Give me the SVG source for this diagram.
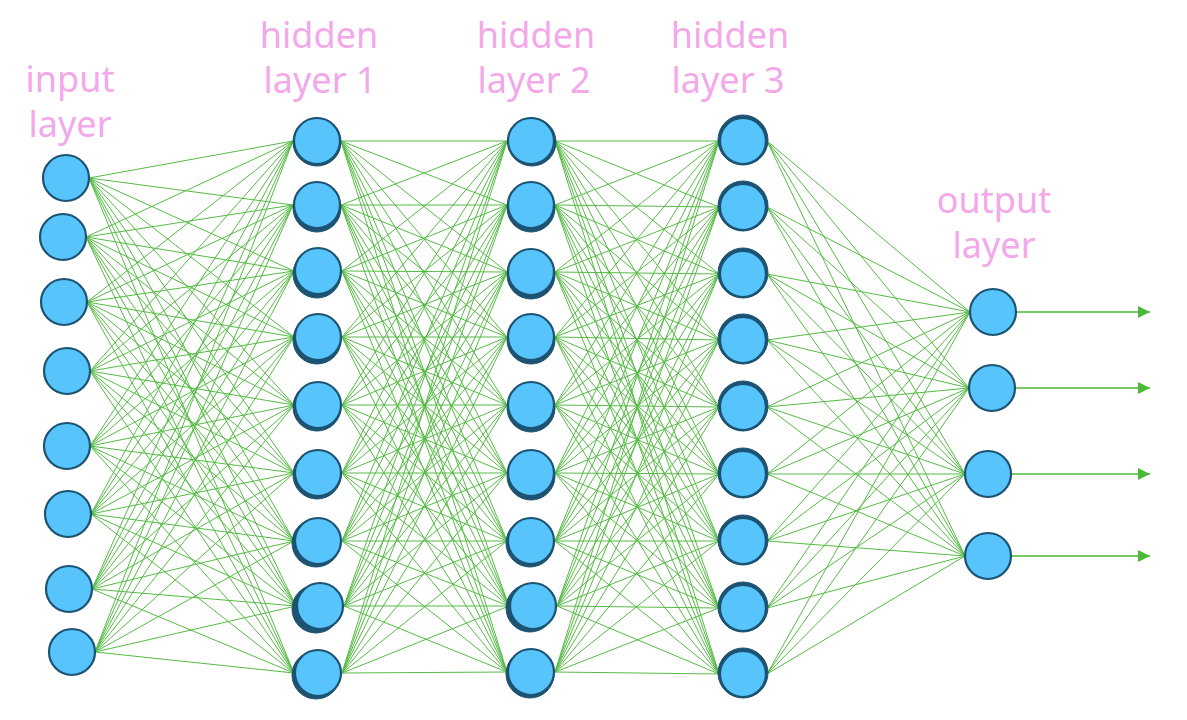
<svg xmlns="http://www.w3.org/2000/svg" width="1187" height="720" viewBox="0 0 1187 720">
<style>
.lbl{font-family:"Noto Sans","Open Sans","DejaVu Sans",sans-serif;font-size:36px;fill:#f3a8e9;text-anchor:middle}
.c{fill:none;stroke:#55bb44;stroke-width:1}
.n{fill:#57c4fc;stroke:#1c5372;stroke-width:2.2}
.b{fill:#1c5372;stroke:#1c5372;stroke-width:1}
.a{stroke:#4cb83a;stroke-width:1.3;fill:none}
</style>
<defs>
<marker id="ah" markerUnits="userSpaceOnUse" markerWidth="13" markerHeight="13" refX="12" refY="6" orient="auto"><path d="M0,0L12,6L0,12z" fill="#4cb83a"/></marker>
</defs>
<g id="labels">
<text class="lbl" x="70" y="92">input</text>
<text class="lbl" x="70" y="137">layer</text>
<text class="lbl" x="319" y="48">hidden</text>
<text class="lbl" x="320" y="93">layer 1</text>
<text class="lbl" x="536" y="48">hidden</text>
<text class="lbl" x="534" y="93">layer 2</text>
<text class="lbl" x="730" y="48">hidden</text>
<text class="lbl" x="728" y="93">layer 3</text>
<text class="lbl" x="994" y="213">output</text>
<text class="lbl" x="994" y="258">layer</text>
</g>
<g id="connectors">
<path class="c" d="M89,178L293,141M89,178L293,205M89,178L294,271M89,178L294,337M89,178L294,405M89,178L294,473M89,178L294,541M89,178L296,606M89,178L294,673
M86,237L293,141M86,237L293,205M86,237L294,271M86,237L294,337M86,237L294,405M86,237L294,473M86,237L294,541M86,237L296,606M86,237L294,673
M87,302L293,141M87,302L293,205M87,302L294,271M87,302L294,337M87,302L294,405M87,302L294,473M87,302L294,541M87,302L296,606M87,302L294,673
M90,371L293,141M90,371L293,205M90,371L294,271M90,371L294,337M90,371L294,405M90,371L294,473M90,371L294,541M90,371L296,606M90,371L294,673
M90,446L293,141M90,446L293,205M90,446L294,271M90,446L294,337M90,446L294,405M90,446L294,473M90,446L294,541M90,446L296,606M90,446L294,673
M91,514L293,141M91,514L293,205M91,514L294,271M91,514L294,337M91,514L294,405M91,514L294,473M91,514L294,541M91,514L296,606M91,514L294,673
M92,589L293,141M92,589L293,205M92,589L294,271M92,589L294,337M92,589L294,405M92,589L294,473M92,589L294,541M92,589L296,606M92,589L294,673
M95,652L293,141M95,652L293,205M95,652L294,271M95,652L294,337M95,652L294,405M95,652L294,473M95,652L294,541M95,652L296,606M95,652L294,673"/>
<path class="c" d="M341,141L507,141M341,141L507,205M341,141L507,272M341,141L507,337M341,141L507,405M341,141L507,473M341,141L507,541M341,141L509,606M341,141L507,672
M341,205L507,141M341,205L507,205M341,205L507,272M341,205L507,337M341,205L507,405M341,205L507,473M341,205L507,541M341,205L509,606M341,205L507,672
M342,271L507,141M342,271L507,205M342,271L507,272M342,271L507,337M342,271L507,405M342,271L507,473M342,271L507,541M342,271L509,606M342,271L507,672
M342,337L507,141M342,337L507,205M342,337L507,272M342,337L507,337M342,337L507,405M342,337L507,473M342,337L507,541M342,337L509,606M342,337L507,672
M342,405L507,141M342,405L507,205M342,405L507,272M342,405L507,337M342,405L507,405M342,405L507,473M342,405L507,541M342,405L509,606M342,405L507,672
M342,473L507,141M342,473L507,205M342,473L507,272M342,473L507,337M342,473L507,405M342,473L507,473M342,473L507,541M342,473L509,606M342,473L507,672
M342,541L507,141M342,541L507,205M342,541L507,272M342,541L507,337M342,541L507,405M342,541L507,473M342,541L507,541M342,541L509,606M342,541L507,672
M344,606L507,141M344,606L507,205M344,606L507,272M344,606L507,337M344,606L507,405M344,606L507,473M344,606L507,541M344,606L509,606M344,606L507,672
M342,673L507,141M342,673L507,205M342,673L507,272M342,673L507,337M342,673L507,405M342,673L507,473M342,673L507,541M342,673L509,606M342,673L507,672"/>
<path class="c" d="M555,141L719,141M555,141L719,207M555,141L719,274M555,141L719,340M555,141L719,407M555,141L719,474M555,141L719,541M555,141L719,608M555,141L719,674
M555,205L719,141M555,205L719,207M555,205L719,274M555,205L719,340M555,205L719,407M555,205L719,474M555,205L719,541M555,205L719,608M555,205L719,674
M555,272L719,141M555,272L719,207M555,272L719,274M555,272L719,340M555,272L719,407M555,272L719,474M555,272L719,541M555,272L719,608M555,272L719,674
M555,337L719,141M555,337L719,207M555,337L719,274M555,337L719,340M555,337L719,407M555,337L719,474M555,337L719,541M555,337L719,608M555,337L719,674
M555,405L719,141M555,405L719,207M555,405L719,274M555,405L719,340M555,405L719,407M555,405L719,474M555,405L719,541M555,405L719,608M555,405L719,674
M555,473L719,141M555,473L719,207M555,473L719,274M555,473L719,340M555,473L719,407M555,473L719,474M555,473L719,541M555,473L719,608M555,473L719,674
M555,541L719,141M555,541L719,207M555,541L719,274M555,541L719,340M555,541L719,407M555,541L719,474M555,541L719,541M555,541L719,608M555,541L719,674
M557,606L719,141M557,606L719,207M557,606L719,274M557,606L719,340M557,606L719,407M557,606L719,474M557,606L719,541M557,606L719,608M557,606L719,674
M555,672L719,141M555,672L719,207M555,672L719,274M555,672L719,340M555,672L719,407M555,672L719,474M555,672L719,541M555,672L719,608M555,672L719,674"/>
<path class="c" d="M767,141L970,312M767,141L969,388M767,141L965,474M767,141L965,556
M767,207L970,312M767,207L969,388M767,207L965,474M767,207L965,556
M767,274L970,312M767,274L969,388M767,274L965,474M767,274L965,556
M767,340L970,312M767,340L969,388M767,340L965,474M767,340L965,556
M767,407L970,312M767,407L969,388M767,407L965,474M767,407L965,556
M767,474L970,312M767,474L969,388M767,474L965,474M767,474L965,556
M767,541L970,312M767,541L969,388M767,541L965,474M767,541L965,556
M767,608L970,312M767,608L969,388M767,608L965,474M767,608L965,556
M767,674L970,312M767,674L969,388M767,674L965,474M767,674L965,556"/>
<line class="a" x1="1016" y1="312" x2="1150" y2="312" marker-end="url(#ah)"/>
<line class="a" x1="1015" y1="388" x2="1150" y2="388" marker-end="url(#ah)"/>
<line class="a" x1="1011" y1="474" x2="1150" y2="474" marker-end="url(#ah)"/>
<line class="a" x1="1011" y1="556" x2="1150" y2="556" marker-end="url(#ah)"/>
</g>
<g id="input-layer">
<circle class="n" cx="66" cy="178" r="23"/>
<circle class="n" cx="63" cy="237" r="23"/>
<circle class="n" cx="64" cy="302" r="23"/>
<circle class="n" cx="67" cy="371" r="23"/>
<circle class="n" cx="67" cy="446" r="23"/>
<circle class="n" cx="68" cy="514" r="23"/>
<circle class="n" cx="69" cy="589" r="23"/>
<circle class="n" cx="72" cy="652" r="23"/>
</g>
<g id="hidden-layer-1">
<circle class="b" cx="317" cy="142" r="24"/><circle class="n" cx="317" cy="141" r="23"/>
<circle class="b" cx="317" cy="208" r="24"/><circle class="n" cx="317" cy="205" r="23"/>
<circle class="b" cx="317" cy="274" r="24"/><circle class="n" cx="318" cy="271" r="23"/>
<circle class="b" cx="317" cy="340" r="24"/><circle class="n" cx="318" cy="337" r="23"/>
<circle class="b" cx="317" cy="407" r="24"/><circle class="n" cx="318" cy="405" r="23"/>
<circle class="b" cx="317" cy="475" r="24"/><circle class="n" cx="318" cy="473" r="23"/>
<circle class="b" cx="316" cy="543" r="24"/><circle class="n" cx="318" cy="541" r="23"/>
<circle class="b" cx="316" cy="609" r="24"/><circle class="n" cx="320" cy="606" r="23"/>
<circle class="b" cx="316" cy="675" r="24"/><circle class="n" cx="318" cy="673" r="23"/>
</g>
<g id="hidden-layer-2">
<circle class="b" cx="532" cy="142" r="24"/><circle class="n" cx="531" cy="141" r="23"/>
<circle class="b" cx="531" cy="208" r="24"/><circle class="n" cx="531" cy="205" r="23"/>
<circle class="b" cx="531" cy="275" r="24"/><circle class="n" cx="531" cy="272" r="23"/>
<circle class="b" cx="531" cy="340" r="24"/><circle class="n" cx="531" cy="337" r="23"/>
<circle class="b" cx="531" cy="408" r="24"/><circle class="n" cx="531" cy="405" r="23"/>
<circle class="b" cx="531" cy="476" r="24"/><circle class="n" cx="531" cy="473" r="23"/>
<circle class="b" cx="530" cy="543" r="24"/><circle class="n" cx="531" cy="541" r="23"/>
<circle class="b" cx="530" cy="608" r="24"/><circle class="n" cx="533" cy="606" r="23"/>
<circle class="b" cx="530" cy="674" r="24"/><circle class="n" cx="531" cy="672" r="23"/>
</g>
<g id="hidden-layer-3">
<circle class="b" cx="743" cy="140" r="25"/><circle class="n" cx="743" cy="141" r="23"/>
<circle class="b" cx="743" cy="206" r="25"/><circle class="n" cx="743" cy="207" r="23"/>
<circle class="b" cx="743" cy="273" r="25"/><circle class="n" cx="743" cy="274" r="23"/>
<circle class="b" cx="743" cy="339" r="25"/><circle class="n" cx="743" cy="340" r="23"/>
<circle class="b" cx="743" cy="406" r="25"/><circle class="n" cx="743" cy="407" r="23"/>
<circle class="b" cx="743" cy="473" r="25"/><circle class="n" cx="743" cy="474" r="23"/>
<circle class="b" cx="743" cy="540" r="25"/><circle class="n" cx="743" cy="541" r="23"/>
<circle class="b" cx="743" cy="607" r="25"/><circle class="n" cx="743" cy="608" r="23"/>
<circle class="b" cx="743" cy="673" r="25"/><circle class="n" cx="743" cy="674" r="23"/>
</g>
<g id="output-layer">
<circle class="n" cx="993" cy="312" r="23"/>
<circle class="n" cx="992" cy="388" r="23"/>
<circle class="n" cx="988" cy="474" r="23"/>
<circle class="n" cx="988" cy="556" r="23"/>
</g>
</svg>
